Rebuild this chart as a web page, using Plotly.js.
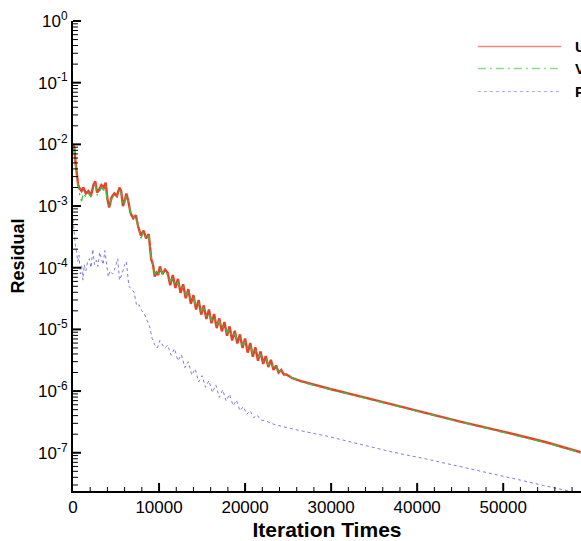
<!DOCTYPE html>
<html>
<head>
<meta charset="utf-8">
<script src="https://cdn.plot.ly/plotly-3.0.1.min.js"></script>
<style>html,body{margin:0;padding:0;background:#fff;overflow:hidden}#chart{width:581px;height:541px}</style>
</head>
<body>
<div id="chart"></div>
<script>
// ---- data ----
const seriesNames = ["U", "V", "P"];

const iterU = [0,150,300,450,600,800,1000,1200,1500,1800,2100,2400,2600,2800,3000,3300,3600,3800,4000,4200,4500,4800,5100,5400,5600,5800,6000,6200,6400,6700,7000,7300,7600,7900,8200,8500,8800,9100,9300,9500,9700,9900,10100,10400,10700,
11000,11300,11600,11900,12200,12500,12800,13100,13400,13700,14000,14300,14600,14900,15200,15500,15800,16100,16400,16700,17000,17300,17600,17900,18200,18500,18800,19100,19400,19700,20000,20300,20600,20900,21200,21500,21800,22100,22400,22700,23000,23300,23600,23900,24200,24500,24800,
25500,26500,28000,30000,35000,40000,45000,50000,55000,59000];
const residualU = [1.0e-2,8.9e-3,5.0e-3,3.2e-3,2.2e-3,1.9e-3,1.75e-3,2.0e-3,1.6e-3,1.75e-3,1.5e-3,2.25e-3,2.5e-3,1.65e-3,1.8e-3,2.2e-3,2.0e-3,2.4e-3,1.3e-3,9.5e-4,1.4e-3,1.6e-3,1.45e-3,2.0e-3,1.75e-3,1.0e-3,1.2e-3,1.6e-3,1.25e-3,7.6e-4,6.3e-4,7.1e-4,4.5e-4,3.3e-4,4.0e-4,3.0e-4,3.5e-4,1.35e-4,1.12e-4,7.2e-5,8.3e-5,7.6e-5,1.05e-4,7.9e-5,9.3e-5,
8.3e-5,5.2e-5,7.6e-5,4.7e-5,6.6e-5,3.9e-5,5.4e-5,3.2e-5,4.5e-5,2.6e-5,3.6e-5,2.1e-5,3.0e-5,1.74e-5,2.45e-5,1.48e-5,2.1e-5,1.26e-5,1.78e-5,1.05e-5,1.51e-5,9.3e-6,1.32e-5,7.9e-6,1.12e-5,6.6e-6,9.5e-6,5.9e-6,8.3e-6,5.0e-6,7.1e-6,4.2e-6,6.0e-6,3.6e-6,5.1e-6,3.1e-6,4.4e-6,2.75e-6,3.7e-6,2.45e-6,3.2e-6,2.2e-6,2.6e-6,2.0e-6,2.2e-6,1.86e-6,1.86e-6,
1.62e-6,1.45e-6,1.26e-6,1.07e-6,7.2e-7,4.8e-7,3.2e-7,2.2e-7,1.48e-7,1.02e-7];

const iterV = iterU;
const residualV = [9.5e-3,8.0e-3,4.5e-3,2.8e-3,2.0e-3,1.5e-3,1.2e-3,1.6e-3,1.4e-3,1.6e-3,1.4e-3,2.0e-3,2.3e-3,1.5e-3,1.6e-3,2.0e-3,1.8e-3,2.1e-3,1.2e-3,1.0e-3,1.3e-3,1.5e-3,1.4e-3,1.8e-3,1.6e-3,1.05e-3,1.15e-3,1.45e-3,1.2e-3,7.8e-4,6.5e-4,6.8e-4,4.3e-4,3.0e-4,3.8e-4,2.9e-4,3.3e-4,1.45e-4,1.1e-4,7.8e-5,8.5e-5,7.8e-5,9.8e-5,8.1e-5,9.0e-5,
7.6e-5,5.9e-5,6.8e-5,5.2e-5,5.8e-5,4.4e-5,4.8e-5,3.6e-5,4.0e-5,2.95e-5,3.2e-5,2.4e-5,2.6e-5,2.0e-5,2.2e-5,1.66e-5,1.82e-5,1.41e-5,1.58e-5,1.2e-5,1.35e-5,1.05e-5,1.15e-5,8.9e-6,1.0e-5,7.6e-6,8.5e-6,6.6e-6,7.2e-6,5.6e-6,6.3e-6,4.8e-6,5.4e-6,4.1e-6,4.6e-6,3.5e-6,3.9e-6,3.0e-6,3.4e-6,2.7e-6,2.9e-6,2.35e-6,2.45e-6,2.1e-6,2.1e-6,1.9e-6,1.82e-6,
1.6e-6,1.42e-6,1.24e-6,1.05e-6,7.1e-7,4.7e-7,3.15e-7,2.15e-7,1.45e-7,1.0e-7];

const iterP = [0,100,250,400,550,700,850,1000,1150,1300,1500,1700,1900,2100,2300,2500,2700,2900,3100,3300,3500,3700,3900,4100,4300,4600,4900,5200,5400,5700,6000,6200,6500,6800,7100,7400,7700,8000,8300,8600,8900,9200,9500,9800,10100,10400,10700,
11000,11400,11800,12200,12600,13000,13400,13800,14200,14600,15000,15400,15800,16200,16600,17000,17400,17800,18200,18600,19000,19400,19800,20200,20600,21000,21400,21800,
22400,23000,23700,26000,29500,33000,37200,41100,45000,48850,52000,54660,57000,58000];
const residualP = [6.0e-4,4.0e-4,2.5e-4,1.8e-4,1.26e-4,1.6e-4,7.9e-5,1.12e-4,6.3e-5,1.12e-4,8.9e-5,1.26e-4,1.4e-4,1.0e-4,2.0e-4,1.12e-4,1.32e-4,1.05e-4,1.78e-4,1.4e-4,1.12e-4,1.9e-4,1.26e-4,7.1e-5,8.9e-5,7.9e-5,1.0e-4,1.4e-4,6.3e-5,7.9e-5,1.12e-4,1.26e-4,5.0e-5,4.5e-5,4.0e-5,2.4e-5,2.5e-5,2.0e-5,1.78e-5,1.41e-5,1.12e-5,7.1e-6,5.6e-6,5.0e-6,6.6e-6,5.6e-6,5.0e-6,
5.6e-6,3.8e-6,4.9e-6,3.1e-6,3.9e-6,2.4e-6,3.0e-6,1.82e-6,2.3e-6,1.41e-6,1.78e-6,1.15e-6,1.48e-6,9.5e-7,1.26e-6,7.9e-7,1.05e-6,6.9e-7,8.9e-7,5.8e-7,7.1e-7,4.8e-7,5.6e-7,4.2e-7,4.8e-7,3.7e-7,4.1e-7,3.4e-7,
3.3e-7,3.0e-7,2.8e-7,2.35e-7,1.86e-7,1.41e-7,1.02e-7,7.9e-8,6.0e-8,4.5e-8,3.6e-8,2.95e-8,2.5e-8,2.34e-8];

const yTickVals = [1, 1e-1, 1e-2, 1e-3, 1e-4, 1e-5, 1e-6, 1e-7];
const yTickText = ["10<sup>0</sup>","10<sup>-1</sup>","10<sup>-2</sup>","10<sup>-3</sup>","10<sup>-4</sup>","10<sup>-5</sup>","10<sup>-6</sup>","10<sup>-7</sup>"];
const xTickVals = [0, 10000, 20000, 30000, 40000, 50000];

// ---- styles ----
const colU = "#e8402a", colV = "#3fbf3f", colP = "#7c7cdc";
const FONT = "Liberation Sans, Arial, Helvetica, sans-serif";
const Y_RANGE = [-7.62, 0];
const X_RANGE = [0, 59040];
const PLOT_W = 581 - 73, PLOT_H = 541 - 21 - 50;

const traces = [
  {x: iterU, y: residualU, name: seriesNames[0], mode: "lines", line: {color: colU, width: 2.4}},
  {x: iterV, y: residualV, name: seriesNames[1], mode: "lines", line: {color: colV, width: 1.3, dash: "8px,4px,2px,4px"}},
  {x: iterP, y: residualP, name: seriesNames[2], mode: "lines", line: {color: colP, width: 1, dash: "dot"}}
];

const shapes = [], annotations = [];

// tick marks pointing into the plot (drawn as layout shapes, positioned in paper units)
function yFrac(v) { return (Math.log10(v) - Y_RANGE[0]) / (Y_RANGE[1] - Y_RANGE[0]); }
function yTick(v, len, w) {
  const f = yFrac(v);
  shapes.push({type: "line", xref: "paper", yref: "paper", x0: 0, x1: len / PLOT_W,
    y0: f, y1: f, line: {color: "#000", width: w}});
}
function xTick(v, len, w) {
  shapes.push({type: "line", xref: "x", yref: "paper", x0: v, x1: v, y0: 0, y1: len / PLOT_H,
    line: {color: "#000", width: w}});
}
yTickVals.forEach(v => yTick(v, 8, 2));
for (let e = -8; e < 0; e++) for (let d = 2; d <= 9; d++) {
  const v = d * Math.pow(10, e);
  if (Math.log10(v) > Y_RANGE[0]) yTick(v, 5, 1);
}
xTickVals.forEach(v => { if (v > 0) xTick(v, 8, 2); });
for (let v = 2000; v < X_RANGE[1]; v += 2000) if (v % 10000 !== 0) xTick(v, 4, 1);

// legend drawn as layout shapes/annotations (long line samples as in the reference)
const legY = [0.946, 0.899, 0.850];
const legCol = [ "#f08a78", "#8ed88e", "#a9a9e6" ];
const legDash = ["solid", "8px,4px,2px,4px", "dot"];
for (let i = 0; i < 3; i++) {
  shapes.push({type: "line", xref: "paper", yref: "paper", x0: 0.797, x1: 0.961, y0: legY[i], y1: legY[i],
    line: {color: legCol[i], width: i === 2 ? 1 : 1.5, dash: legDash[i]}});
  annotations.push({xref: "paper", yref: "paper", x: 0.984, y: legY[i], xanchor: "left", yanchor: "middle",
    text: seriesNames[i], showarrow: false, font: {family: FONT, size: 15, color: "#000", weight: "bold"}});
}

const layout = {
  width: 581, height: 541,
  margin: {l: 73, r: 0, t: 21, b: 50, autoexpand: false},
  paper_bgcolor: "#fff", plot_bgcolor: "#fff",
  showlegend: false,
  font: {family: FONT, color: "#000"},
  xaxis: {
    range: X_RANGE, showgrid: false, zeroline: false,
    showline: true, linecolor: "#000", linewidth: 2,
    ticks: "", tickmode: "array", tickvals: xTickVals, tickformat: "d",
    tickfont: {family: FONT, size: 17, color: "#000"},
    title: {text: "Iteration Times", standoff: 6, font: {family: FONT, size: 21, color: "#000", weight: "bold"}},
    automargin: false
  },
  yaxis: {
    type: "log", range: Y_RANGE, showgrid: false, zeroline: false,
    showline: true, linecolor: "#000", linewidth: 2,
    ticks: "", tickmode: "array", tickvals: yTickVals, ticktext: yTickText,
    tickfont: {family: FONT, size: 17, color: "#000"},
    title: {text: "Residual", standoff: 9, font: {family: FONT, size: 18, color: "#000", weight: "bold"}},
    automargin: false
  },
  shapes: shapes,
  annotations: annotations
};

Plotly.newPlot("chart", traces, layout, {displayModeBar: false, staticPlot: true});
</script>
</body>
</html>
